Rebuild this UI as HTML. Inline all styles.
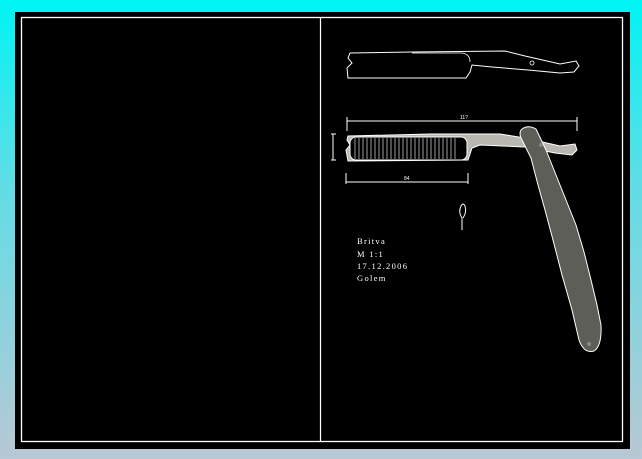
<!DOCTYPE html>
<html><head><style>
html,body{margin:0;padding:0;width:642px;height:459px;overflow:hidden;background:linear-gradient(#00f4f4 0%,#60dde6 40%,#b8c8d4 100%);}
svg{position:absolute;left:0;top:0}
</style></head><body>
<svg width="642" height="459" viewBox="0 0 642 459">
<rect x="15" y="12" width="615" height="437" fill="#000"/>
<rect x="21.5" y="17.5" width="601" height="424" fill="none" stroke="#fff" stroke-width="1.3"/>
<line x1="320.5" y1="18" x2="320.5" y2="442" stroke="#fff" stroke-width="1.2"/>
<!-- top razor -->
<path d="M350,53 L412,52 L505,51 L525,56 L560,64 L576,61 L579,66 L574,72 L560,73 L528,70 L492,67 L472,65 L470,72 L466,78 L348,78 L347,68 L352,63 L348,58 Z" fill="none" stroke="#fff" stroke-width="1"/>
<path d="M412,53 L462,53 Q470,54 470,62" fill="none" stroke="#fff" stroke-width="0.8"/>
<circle cx="532" cy="63" r="2" fill="none" stroke="#fff" stroke-width="0.8"/>
<!-- dimensions -->
<g stroke="#fff" stroke-width="1" fill="none">
<line x1="347" y1="121" x2="577" y2="121"/><line x1="347" y1="117" x2="347" y2="131"/><line x1="577" y1="117" x2="577" y2="131"/>
<line x1="333" y1="134" x2="333" y2="160"/><line x1="331" y1="134" x2="336" y2="134"/><line x1="331" y1="160" x2="336" y2="160"/>
<line x1="346" y1="182" x2="468" y2="182"/><line x1="346" y1="173" x2="346" y2="184"/><line x1="468" y1="173" x2="468" y2="184"/>
</g>
<text x="460" y="119" fill="#fff" font-size="5" font-family="Liberation Sans,sans-serif">11?</text>
<text x="404" y="180" fill="#fff" font-size="5" font-family="Liberation Sans,sans-serif">84</text>
<!-- second razor -->
<path d="M348,136 L430,134 L500,134 L525,138 L560,146 L575,144 L577,150 L572,155 L555,153 L525,147 L480,145 L472,148 L468,160 L348,161 L346,150 L350,145 L347,140 Z" fill="#b8b8b0" stroke="#fff" stroke-width="1"/>
<rect x="350" y="137" width="117" height="23" rx="6" fill="#000" stroke="#fff" stroke-width="1"/>
<g stroke="#ddd" stroke-width="0.7">
<line x1="355" y1="138" x2="355" y2="159"/><line x1="359" y1="138" x2="359" y2="159"/><line x1="363" y1="138" x2="363" y2="159"/><line x1="367" y1="138" x2="367" y2="159"/><line x1="371" y1="138" x2="371" y2="159"/><line x1="375" y1="138" x2="375" y2="159"/><line x1="379" y1="138" x2="379" y2="159"/><line x1="383" y1="138" x2="383" y2="159"/><line x1="387" y1="138" x2="387" y2="159"/><line x1="391" y1="138" x2="391" y2="159"/><line x1="395" y1="138" x2="395" y2="159"/><line x1="399" y1="138" x2="399" y2="159"/><line x1="403" y1="138" x2="403" y2="159"/><line x1="407" y1="138" x2="407" y2="159"/><line x1="411" y1="138" x2="411" y2="159"/><line x1="415" y1="138" x2="415" y2="159"/><line x1="419" y1="138" x2="419" y2="159"/><line x1="423" y1="138" x2="423" y2="159"/><line x1="427" y1="138" x2="427" y2="159"/><line x1="431" y1="138" x2="431" y2="159"/><line x1="435" y1="138" x2="435" y2="159"/><line x1="439" y1="138" x2="439" y2="159"/><line x1="443" y1="138" x2="443" y2="159"/><line x1="447" y1="138" x2="447" y2="159"/><line x1="451" y1="138" x2="451" y2="159"/><line x1="455" y1="138" x2="455" y2="159"/>
</g>
<!-- handle -->
<path d="M521,130 Q527,124 536,129 L546,150 L556,175 L566,200 L576,225 L584,252 L591,280 L597,305 L601,325 Q602,346 594,351 Q584,354 579,340 L572,310 L562,275 L553,240 L545,210 L538,185 L531,158 L521,138 Q519,133 521,130 Z" fill="#5e5e58" stroke="#fff" stroke-width="1" stroke-linejoin="round"/>
<circle cx="541" cy="145" r="2" fill="#888"/>
<circle cx="589" cy="344" r="2" fill="#888"/>
<!-- small loop -->
<path d="M462,230 L462,218 Q458,212 461,206 Q463,202 465,206 Q467,212 463,218" fill="none" stroke="#fff" stroke-width="1"/>
<g fill="#fff" font-family="Liberation Serif,serif" font-size="8.5" letter-spacing="1.3">
<text x="357" y="244">Britva</text>
<text x="357" y="257">M 1:1</text>
<text x="357" y="269">17.12.2006</text>
<text x="357" y="281">Golem</text>
</g>
</svg>
</body></html>
